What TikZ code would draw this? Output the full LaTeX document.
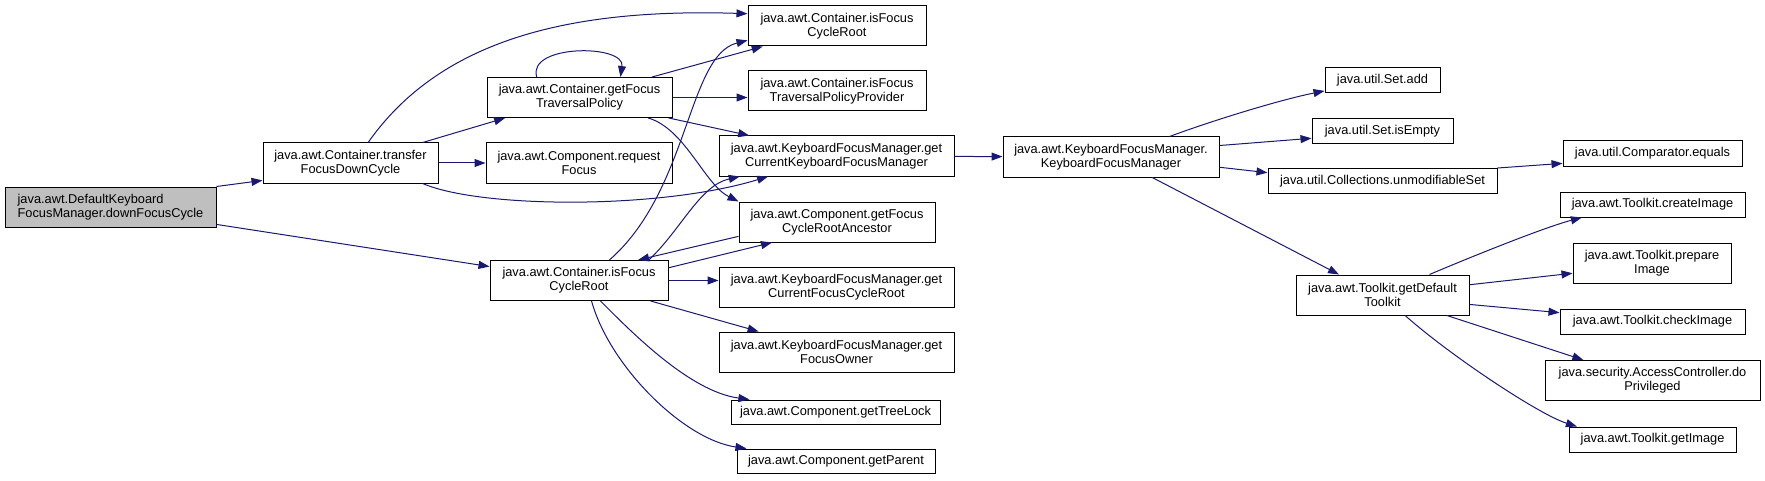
\documentclass[tikz,border=0pt]{standalone}
\usepackage{fontspec}
\setmainfont{Liberation Sans}
\usetikzlibrary{arrows.meta, calc}
\definecolor{edgeblue}{HTML}{191970}
\definecolor{rootgray}{HTML}{BFBFBF}
\tikzset{fn/.style={draw, line width=0.75pt, inner sep=0pt, align=center, fill=white}}
\tikzset{rootfn/.style={fn, fill=rootgray, align=left}}
\tikzset{sz/.style 2 args={minimum width=#1*0.75pt, minimum height=#2*0.75pt}}
\tikzset{call/.style={draw=edgeblue, line width=0.75pt, -{Triangle[length=8.25pt, width=6pt]}, edgeblue}}

\begin{document}
\begin{tikzpicture}[x=0.75pt, y=-0.75pt, font=\fontsize{9.6}{10.5}\selectfont]
\useasboundingbox (0,0) rectangle (1765,481);

% callers
\node[rootfn, sz={211}{40}] (root) at (110.5,207) {java.awt.DefaultKeyboard\\FocusManager.downFocusCycle};
\node[fn, sz={175}{40}] (transfer) at (350.5,163) {java.awt.Container.transfer\\FocusDownCycle};

% second column
\node[fn, sz={185}{40}] (gftp) at (579.5,97.5) {java.awt.Container.getFocus\\TraversalPolicy};
\node[fn, sz={186}{40}] (reqfocus) at (579,163) {java.awt.Component.request\\Focus};
\node[fn, sz={178}{40}] (isfcr) at (579,280.5) {java.awt.Container.isFocus\\CycleRoot};

% third column
\node[fn, sz={178}{40}] (isfcrtop) at (837,26) {java.awt.Container.isFocus\\CycleRoot};
\node[fn, sz={178}{40}] (isftpp) at (837,91) {java.awt.Container.isFocus\\TraversalPolicyProvider};
\node[fn, sz={235}{40}] (getckfm) at (836.5,156) {java.awt.KeyboardFocusManager.get\\CurrentKeyboardFocusManager};
\node[fn, sz={196}{40}] (gfcra) at (837,222) {java.awt.Component.getFocus\\CycleRootAncestor};
\node[fn, sz={235}{40}] (getcfcr) at (836.5,287) {java.awt.KeyboardFocusManager.get\\CurrentFocusCycleRoot};
\node[fn, sz={235}{40}] (getfo) at (836.5,352) {java.awt.KeyboardFocusManager.get\\FocusOwner};
\node[fn, sz={209}{24}] (treelock) at (835.5,412) {java.awt.Component.getTreeLock};
\node[fn, sz={198}{24}] (getparent) at (836,461) {java.awt.Component.getParent};

% keyboard focus manager
\node[fn, sz={216}{40}] (kfm) at (1111,157) {java.awt.KeyboardFocusManager.\\KeyboardFocusManager};
\node[fn, sz={115}{25}] (setadd) at (1382.5,80.5) {java.util.Set.add};
\node[fn, sz={141}{25}] (setisempty) at (1382.5,131) {java.util.Set.isEmpty};
\node[fn, sz={229}{25}] (unmodset) at (1382.5,181) {java.util.Collections.unmodifiableSet};
\node[fn, sz={173}{40}] (gdt) at (1382.5,295) {java.awt.Toolkit.getDefault\\Toolkit};

% last column
\node[fn, sz={179}{25}] (compeq) at (1652.5,153.5) {java.util.Comparator.equals};
\node[fn, sz={185}{25}] (createimg) at (1652.5,204.5) {java.awt.Toolkit.createImage};
\node[fn, sz={158}{40}] (prepimg) at (1652,263) {java.awt.Toolkit.prepare\\Image};
\node[fn, sz={185}{25}] (checkimg) at (1652.5,321.5) {java.awt.Toolkit.checkImage};
\node[fn, sz={215}{40}] (doprivileged) at (1652.5,380.5) {java.security.AccessController.do\\Privileged};
\node[fn, sz={167}{25}] (getimg) at (1652.5,439.5) {java.awt.Toolkit.getImage};

\draw[call] (root.north east) -- ($(transfer.south west)!0.075!(transfer.north west)$);
\draw[call] ($(root.south east)!0.075!(root.north east)$) -- ($(isfcr.north west)!0.16!(isfcr.south west)$);

\draw[call] ($(transfer.north west)!0.6!(transfer.north east)$) .. controls +(69,-98) and +(-188,-6) .. ($(isfcrtop.north west)!0.2!(isfcrtop.south west)$);
\draw[call] ($(transfer.north west)!0.91!(transfer.north east)$) -- ($(gftp.south west)!0.1!(gftp.south east)$);
\draw[call] (transfer) -- (reqfocus);
\draw[call] ($(transfer.south west)!0.91!(transfer.south east)$) .. controls +(58,25) and +(-108,33) .. ($(getckfm.south west)!0.21!(getckfm.south east)$);

\draw[call] ($(gftp.north west)!0.27!(gftp.north east)$) .. controls +(-10,-33) and +(5,-33) .. ($(gftp.north west)!0.72!(gftp.north east)$);
\draw[call] ($(gftp.north west)!0.89!(gftp.north east)$) -- ($(isfcrtop.south west)!0.085!(isfcrtop.south east)$);
\draw[call] (gftp.east) -- (gftp.east -| isftpp.west);
\draw[call] ($(gftp.south west)!0.98!(gftp.south east)$) -- ($(getckfm.north west)!0.13!(getckfm.north east)$);
\draw[call] ($(gftp.south west)!0.87!(gftp.south east)$) .. controls +(37,11) and +(-34,-17) .. (gfcra.north west);

\draw[call] ($(isfcr.north west)!0.67!(isfcr.north east)$) .. controls +(80,-70) and +(-60,15) .. ($(isfcrtop.south west)!0.15!(isfcrtop.north west)$);
\draw[call] ($(isfcr.north west)!0.89!(isfcr.north east)$) .. controls +(32,-30) and +(-40,9) .. ($(getckfm.south west)!0.09!(getckfm.south east)$);
\draw[call] ($(gfcra.south west)!0.15!(gfcra.north west)$) -- ($(isfcr.north west)!0.83!(isfcr.north east)$);
\draw[call] ($(isfcr.north east)!0.19!(isfcr.south east)$) -- ($(gfcra.south west)!0.17!(gfcra.south east)$);
\draw[call] (isfcr.east) -- (isfcr.east -| getcfcr.west);
\draw[call] ($(isfcr.south west)!0.9!(isfcr.south east)$) -- ($(getfo.north west)!0.17!(getfo.north east)$);
\draw[call] ($(isfcr.south west)!0.62!(isfcr.south east)$) .. controls +(30,30) and +(-60,-8) .. ($(treelock.north west)!0.09!(treelock.north east)$);
\draw[call] ($(isfcr.south west)!0.57!(isfcr.south east)$) .. controls +(18,65) and +(-63,-9) .. ($(getparent.north west)!0.05!(getparent.north east)$);

\draw[call] (getckfm) -- (kfm);
\draw[call] ($(kfm.north west)!0.77!(kfm.north east)$) .. controls +(40,-15) and +(-45,9) .. ($(setadd.south west)!0.1!(setadd.north west)$);
\draw[call] ($(kfm.north east)!0.22!(kfm.south east)$) -- ($(setisempty.north west)!0.78!(setisempty.south west)$);
\draw[call] ($(kfm.north east)!0.75!(kfm.south east)$) -- ($(unmodset.north west)!0.18!(unmodset.south west)$);
\draw[call] ($(kfm.south west)!0.69!(kfm.south east)$) -- ($(gdt.north west)!0.25!(gdt.north east)$);
\draw[call] (unmodset.north east) -- ($(compeq.north west)!0.88!(compeq.south west)$);

\draw[call] ($(gdt.north west)!0.77!(gdt.north east)$) .. controls +(40,-17) and +(-38,10) .. ($(createimg.south west)!0.12!(createimg.south east)$);
\draw[call] ($(gdt.north east)!0.25!(gdt.south east)$) -- ($(prepimg.north west)!0.75!(prepimg.south west)$);
\draw[call] ($(gdt.north east)!0.73!(gdt.south east)$) -- ($(checkimg.north west)!0.16!(checkimg.south west)$);
\draw[call] ($(gdt.south west)!0.87!(gdt.south east)$) -- ($(doprivileged.north west)!0.18!(doprivileged.north east)$);
\draw[call] ($(gdt.south west)!0.63!(gdt.south east)$) .. controls +(45,40) and +(-38,-12) .. ($(getimg.north west)!0.05!(getimg.north east)$);

\end{tikzpicture}
\end{document}
